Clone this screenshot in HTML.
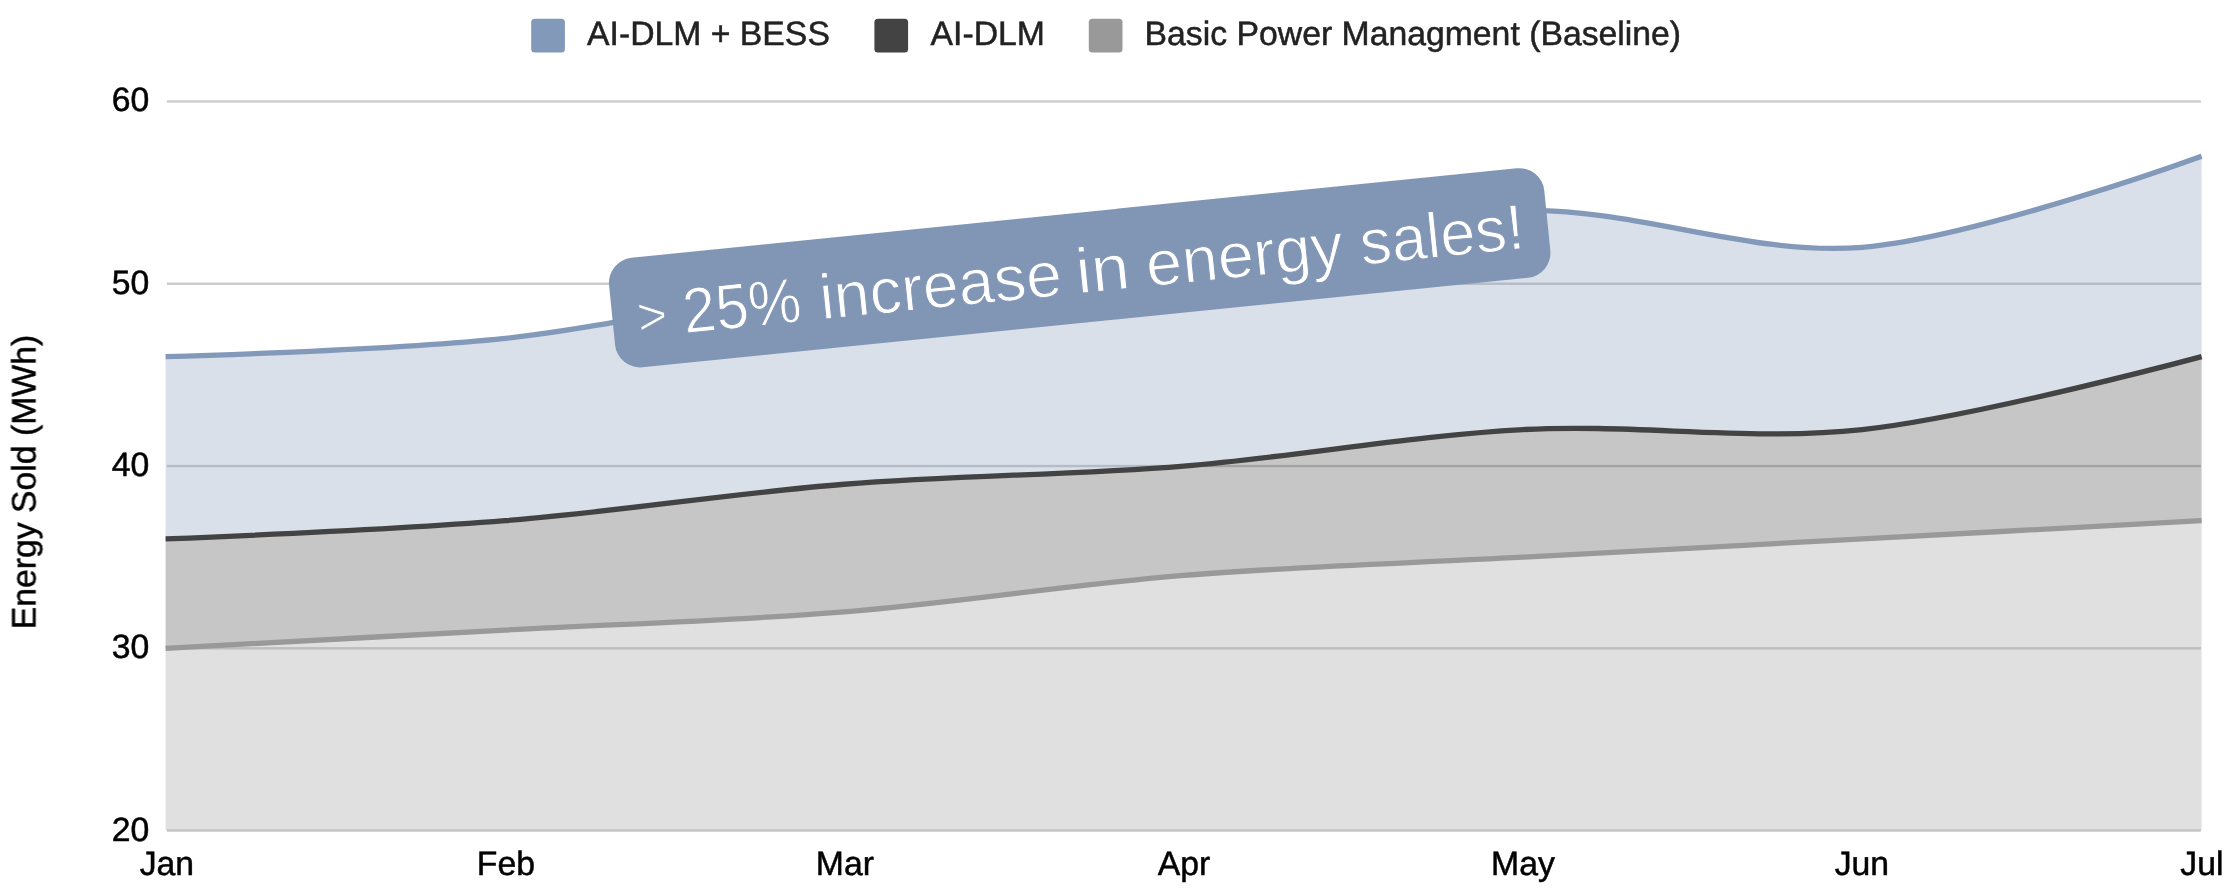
<!DOCTYPE html>
<html><head><meta charset="utf-8"><title>Energy Sold</title>
<style>
html,body{margin:0;padding:0;background:#fff;}
body{width:2232px;height:892px;overflow:hidden;position:relative;font-family:"Liberation Sans",sans-serif;}
svg{position:absolute;left:0;top:0;display:block;}
svg text{font-family:"Liberation Sans",sans-serif;font-size:33.75px;fill:#000000;stroke:#000000;stroke-width:0.5px;text-rendering:geometricPrecision;}
svg .t{opacity:0.999;}
svg .leg text{fill:#222222;stroke:#222222;}
svg .badge text{font-size:64px;fill:#ffffff;stroke:#8196b5;stroke-width:1px;}
</style></head><body>
<svg width="2232" height="892" viewBox="0 0 2232 892">
<rect width="2232" height="892" fill="#ffffff"/>
<g>
<rect x="166.9" y="100.25" width="2034.0" height="2.4" fill="#cccccc"/>
<rect x="166.9" y="282.54" width="2034.0" height="2.4" fill="#cccccc"/>
<rect x="166.9" y="464.83" width="2034.0" height="2.4" fill="#cccccc"/>
<rect x="166.9" y="647.11" width="2034.0" height="2.4" fill="#cccccc"/>
<rect x="166.9" y="829.40" width="2034.0" height="2.4" fill="#cccccc"/>
</g>
<g>
<path d="M165.60,356.65 C165.60,356.65 391.82,350.58 504.93,338.42 C618.04,326.27 731.16,295.89 844.27,283.74 C957.38,271.59 1070.49,277.66 1183.60,265.51 C1296.71,253.36 1409.82,213.86 1522.93,210.82 C1636.04,207.78 1749.16,256.39 1862.27,247.28 C1975.38,238.17 2201.60,156.14 2201.60,156.14 L2201.60,356.65 C2201.60,356.65 1975.38,417.42 1862.27,429.57 C1749.16,441.72 1636.04,423.49 1522.93,429.57 C1409.82,435.64 1296.71,456.91 1183.60,466.03 C1070.49,475.14 957.38,475.14 844.27,484.25 C731.16,493.37 618.04,511.60 504.93,520.71 C391.82,529.83 165.60,538.94 165.60,538.94 Z" fill="#8399b9" fill-opacity="0.3"/>
<path d="M165.60,538.94 C165.60,538.94 391.82,529.83 504.93,520.71 C618.04,511.60 731.16,493.37 844.27,484.25 C957.38,475.14 1070.49,475.14 1183.60,466.03 C1296.71,456.91 1409.82,435.64 1522.93,429.57 C1636.04,423.49 1749.16,441.72 1862.27,429.57 C1975.38,417.42 2201.60,356.65 2201.60,356.65 L2201.60,520.71 C2201.60,520.71 1975.38,532.86 1862.27,538.94 C1749.16,545.02 1636.04,551.09 1522.93,557.17 C1409.82,563.25 1296.71,566.28 1183.60,575.40 C1070.49,584.51 957.38,602.74 844.27,611.86 C731.16,620.97 618.04,624.01 504.93,630.08 C391.82,636.16 165.60,648.31 165.60,648.31 Z" fill="#434343" fill-opacity="0.3"/>
<path d="M165.60,648.31 C165.60,648.31 391.82,636.16 504.93,630.08 C618.04,624.01 731.16,620.97 844.27,611.86 C957.38,602.74 1070.49,584.51 1183.60,575.40 C1296.71,566.28 1409.82,563.25 1522.93,557.17 C1636.04,551.09 1749.16,545.02 1862.27,538.94 C1975.38,532.86 2201.60,520.71 2201.60,520.71 L2201.60,830.60 L165.60,830.60 Z" fill="#999999" fill-opacity="0.3"/>
</g>
<g fill="none" stroke-width="5.3">
<path d="M165.60,648.31 C165.60,648.31 391.82,636.16 504.93,630.08 C618.04,624.01 731.16,620.97 844.27,611.86 C957.38,602.74 1070.49,584.51 1183.60,575.40 C1296.71,566.28 1409.82,563.25 1522.93,557.17 C1636.04,551.09 1749.16,545.02 1862.27,538.94 C1975.38,532.86 2201.60,520.71 2201.60,520.71" stroke="#999999"/>
<path d="M165.60,538.94 C165.60,538.94 391.82,529.83 504.93,520.71 C618.04,511.60 731.16,493.37 844.27,484.25 C957.38,475.14 1070.49,475.14 1183.60,466.03 C1296.71,456.91 1409.82,435.64 1522.93,429.57 C1636.04,423.49 1749.16,441.72 1862.27,429.57 C1975.38,417.42 2201.60,356.65 2201.60,356.65" stroke="#434343"/>
<path d="M165.60,356.65 C165.60,356.65 391.82,350.58 504.93,338.42 C618.04,326.27 731.16,295.89 844.27,283.74 C957.38,271.59 1070.49,277.66 1183.60,265.51 C1296.71,253.36 1409.82,213.86 1522.93,210.82 C1636.04,207.78 1749.16,256.39 1862.27,247.28 C1975.38,238.17 2201.60,156.14 2201.60,156.14" stroke="#8399b9"/>
</g>
<g class="t">
<g class="leg">
<rect x="531.2" y="18.7" width="33.7" height="33.7" rx="3.5" fill="#8399b9"/>
<text x="587.0" y="45.4">AI-DLM + BESS</text>
<rect x="874.4" y="18.7" width="33.7" height="33.7" rx="3.5" fill="#434343"/>
<text x="930.6" y="45.4">AI-DLM</text>
<rect x="1088.8" y="18.7" width="33.7" height="33.7" rx="3.5" fill="#999999"/>
<text x="1144.6" y="45.4">Basic Power Managment (Baseline)</text>
</g>
<g>
<text x="149.3" y="111.4" text-anchor="end">60</text>
<text x="149.3" y="293.6" text-anchor="end">50</text>
<text x="149.3" y="475.9" text-anchor="end">40</text>
<text x="149.3" y="658.2" text-anchor="end">30</text>
<text x="149.3" y="840.5" text-anchor="end">20</text>
</g>
<g>
<text x="166.9" y="875.3" text-anchor="middle">Jan</text>
<text x="505.9" y="875.3" text-anchor="middle">Feb</text>
<text x="844.9" y="875.3" text-anchor="middle">Mar</text>
<text x="1183.9" y="875.3" text-anchor="middle">Apr</text>
<text x="1522.9" y="875.3" text-anchor="middle">May</text>
<text x="1861.9" y="875.3" text-anchor="middle">Jun</text>
<text x="2201.9" y="875.3" text-anchor="middle">Jul</text>
</g>
<text transform="translate(35.5,482) rotate(-90)" text-anchor="middle">Energy Sold (MWh)</text>
</g>
<g transform="translate(1079.7,267.8) rotate(-5.77)">
<rect x="-470.0" y="-55.0" width="940.0" height="110.0" rx="25.0" fill="#8196b5"/>
</g>
<g class="t">
<g class="badge" transform="translate(1079.7,267.8) rotate(-5.77)">
<text x="-444.88" y="22.5" textLength="29.67" lengthAdjust="spacingAndGlyphs" style="font-size:53px">&gt;</text>
<text x="-399.38" y="25.5" textLength="118.64" lengthAdjust="spacingAndGlyphs">25%</text>
<text x="-261.82" y="25.5" textLength="242.92" lengthAdjust="spacingAndGlyphs">increase</text>
<text x="-4.21" y="25.5" textLength="53.68" lengthAdjust="spacingAndGlyphs">in</text>
<text x="66.18" y="25.5" textLength="197.82" lengthAdjust="spacingAndGlyphs">energy</text>
<text x="281.22" y="25.5" textLength="164.68" lengthAdjust="spacingAndGlyphs">sales!</text>
</g>
</g>
</svg>
</body></html>
